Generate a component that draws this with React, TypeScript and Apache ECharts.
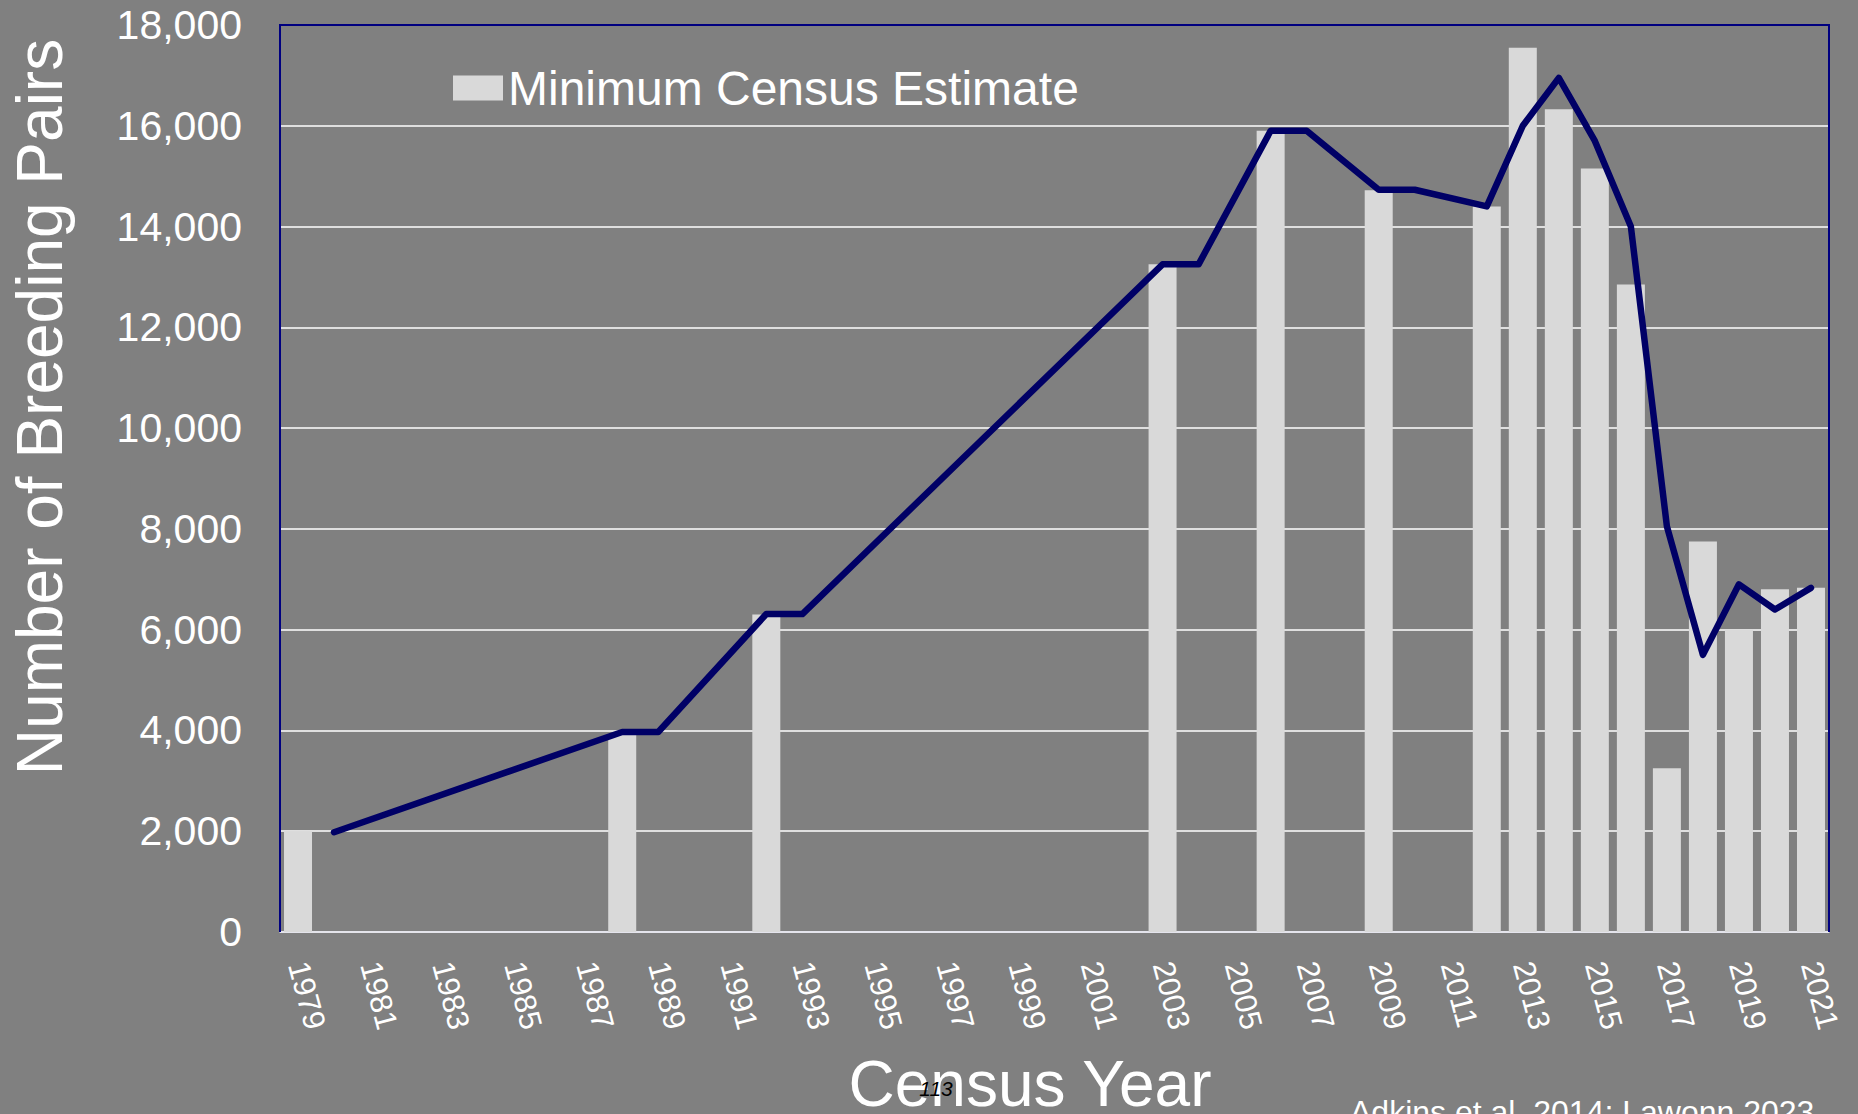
import React, { useEffect, useRef } from "react";
import * as echarts from "echarts";

const years = [
  "1979", "1980", "1981", "1982", "1983", "1984", "1985", "1986", "1987", "1988",
  "1989", "1990", "1991", "1992", "1993", "1994", "1995", "1996", "1997", "1998",
  "1999", "2000", "2001", "2002", "2003", "2004", "2005", "2006", "2007", "2008",
  "2009", "2010", "2011", "2012", "2013", "2014", "2015", "2016", "2017", "2018",
  "2019", "2020", "2021",
];

// Minimum census estimate (bars)
const minimumCensus: (number | null)[] = [
  2000, null, null, null, null, null, null, null, null, 3920,
  null, null, null, 6300, null, null, null, null, null, null,
  null, null, null, null, 13250, null, null, 15900, null, null,
  14720, null, null, 14400, 17550, 16330, 15150, 12850, 3250, 7750,
  6000, 6800, 6830,
];

// Trend line (navy)
const trendLine: (number | null)[] = [
  null, 1980, null, null, null, null, null, null, null, 3970,
  3970, null, null, 6310, 6310, null, null, null, null, null,
  null, null, null, null, 13250, 13250, null, 15900, 15900, null,
  14730, 14730, null, 14400, 16000, 16950, 15700, 14000, 8050, 5500,
  6900, 6400, 6830,
];

const yMin = 0;
const yMax = 18000;
const yInterval = 2000;

const FONT = "'Liberation Sans', Arial, sans-serif";

const GRID = { left: 280, right: 29, top: 25, bottom: 182 };
const W = 1858;
const H = 1114;

export default function App() {
  const ref = useRef<HTMLDivElement>(null);

  useEffect(() => {
    if (!ref.current) return;
    const chart = echarts.init(ref.current, null, { renderer: "svg" });
    const gx0 = GRID.left;
    const gx1 = W - GRID.right;
    const gy0 = GRID.top;
    const gy1 = H - GRID.bottom;
    chart.setOption({
      animation: false,
      backgroundColor: "#808080",
      textStyle: { fontFamily: FONT },
      grid: {
        ...GRID,
        show: false,
        containLabel: false,
      },
      legend: {
        data: ["Minimum Census Estimate"],
        left: 453,
        top: 64,
        padding: 0,
        icon: "rect",
        itemWidth: 50,
        itemHeight: 25,
        selectedMode: false,
        textStyle: { color: "#ffffff", fontSize: 48, fontFamily: FONT },
      },
      xAxis: {
        type: "category",
        data: years,
        boundaryGap: true,
        axisTick: { show: false },
        axisLine: { show: true, lineStyle: { color: "#e6e6f0", width: 1.5 } },
        axisLabel: {
          rotate: -75,
          interval: 1,
          color: "#ffffff",
          fontSize: 31,
          margin: 30,
          fontFamily: FONT,
        },
        splitLine: { show: false },
      },
      yAxis: {
        type: "value",
        min: yMin,
        max: yMax,
        interval: yInterval,
        axisLine: { show: false },
        axisTick: { show: false },
        axisLabel: {
          color: "#ffffff",
          fontSize: 41,
          margin: 38,
          fontFamily: FONT,
          formatter: (v: number) => v.toLocaleString("en-US"),
        },
        splitLine: { show: true, lineStyle: { color: "#ffffff", width: 1.5 } },
      },
      series: [
        {
          name: "Minimum Census Estimate",
          type: "bar",
          data: minimumCensus,
          barWidth: 28,
          itemStyle: { color: "#d9d9d9" },
          z: 2,
        },
        {
          name: "Trend",
          type: "line",
          data: trendLine,
          connectNulls: true,
          symbol: "none",
          lineStyle: { color: "#000066", width: 6.5, cap: "round", join: "round" },
          z: 3,
        },
      ],
      graphic: [
        {
          type: "polyline",
          z: 100,
          silent: true,
          shape: {
            points: [
              [gx0, gy1],
              [gx0, gy0],
              [gx1, gy0],
              [gx1, gy1],
            ],
          },
          style: { stroke: "#000080", lineWidth: 2, fill: null },
        },
        {
          type: "text",
          x: 40,
          y: 407,
          rotation: Math.PI / 2,
          style: {
            text: "Number of Breeding Pairs",
            fill: "#ffffff",
            fontSize: 64,
            fontFamily: FONT,
            align: "center",
            verticalAlign: "middle",
          },
        },
        {
          type: "text",
          x: 1030,
          y: 1084,
          style: {
            text: "Census Year",
            fill: "#ffffff",
            fontSize: 64,
            fontFamily: FONT,
            align: "center",
            verticalAlign: "middle",
          },
        },
        {
          type: "text",
          x: 936,
          y: 1088,
          z: 110,
          style: {
            text: "113",
            fill: "#000000",
            fontSize: 21,
            fontStyle: "italic",
            fontFamily: FONT,
            align: "center",
            verticalAlign: "middle",
          },
        },
        {
          type: "text",
          x: 1350,
          y: 1112,
          style: {
            text: "Adkins et al. 2014; Lawonn 2023",
            fill: "#ffffff",
            fontSize: 32,
            fontFamily: FONT,
            align: "left",
            verticalAlign: "middle",
          },
        },
      ],
    });
    return () => chart.dispose();
  }, []);

  return (
    <div
      ref={ref}
      style={{ position: "fixed", left: 0, top: 0, width: W, height: H }}
    />
  );
}
